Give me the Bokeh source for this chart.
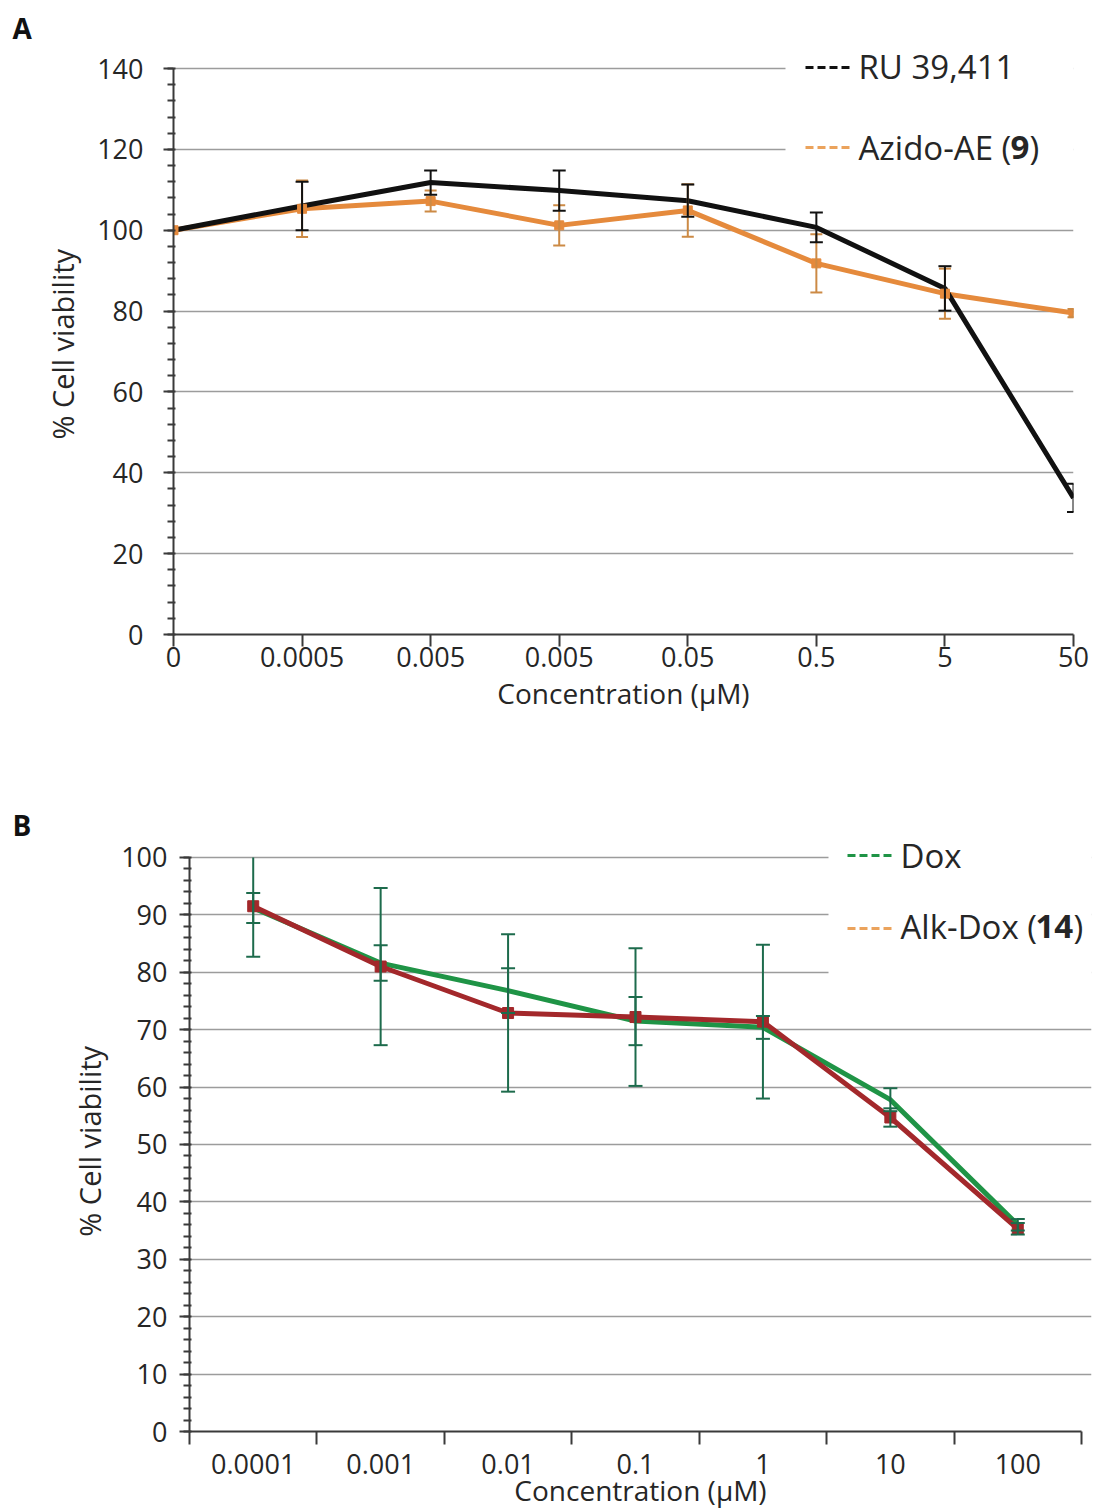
from bokeh.plotting import figure
from bokeh.models import (Range1d, FixedTicker, SingleIntervalTicker, Label,
                          BoxAnnotation, Arrow)
from bokeh.layouts import column
from bokeh.embed import file_html
from bokeh.resources import INLINE

FONT = "Open Sans"

# ---------------- data: panel A ----------------
conc_a = ["0", "0.0005", "0.005", "0.005", "0.05", "0.5", "5", "50"]
ru = [100, 106, 111.8, 109.8, 107.3, 100.7, 85.6, 33.8]
ru_err = [0, 6, 3, 5, 4, 3.7, 5.5, 3.5]
azido = [100, 105.3, 107.2, 101.2, 104.9, 91.8, 84.3, 79.5]
azido_err = [0, 7, 2.6, 5, 6.5, 7.2, 6.2, 1]

# ---------------- data: panel B ----------------
conc_b = ["0.0001", "0.001", "0.01", "0.1", "1", "10", "100"]
dox = [91.2, 81.6, 76.8, 71.5, 70.4, 57.8, 36.0]
dox_err = [2.6, 3.1, 3.9, 4.2, 2.0, 2.0, 1.0]
alk = [91.5, 81.0, 72.9, 72.2, 71.4, 54.7, 35.3]
alk_err = [8.8, 13.7, 13.7, 12.0, 13.4, 1.6, 1.0]

# ---------------- colours ----------------
C_BLACK = "#111111"
C_ORANGE = "#E58A3C"
C_ORANGE_ERR = "#CC8A45"
C_LEG_ORANGE = "#EBA35C"
C_GREEN = "#1F9446"
C_RED = "#A3282B"
C_ERR_B = "#1D6B4C"
C_GRID = "#9C9C9C"
C_AXIS = "#3A3A3A"
C_TEXT = "#262626"

# ---------------- layout (pixels) ----------------
W = 1093
# panel A
A_H = 760
A_LEFT, A_RIGHT, A_TOP, A_BOTTOM = 173, 1073, 46, 634   # frame edges
A_AXIS_TOP = 68                                          # where y = 140 sits
# panel B (figure starts at y = A_H)
B_H = 751
B_LEFT, B_RIGHT, B_TOP, B_BOTTOM = 189, 1091, 843, 1433
B_AXIS_TOP, B_AXIS_RIGHT = 857, 1081

YMAX_A, YMAX_B = 140, 100
LEG_FONT = "33px"


def style_axes(p):
    p.outline_line_color = None
    p.xgrid.visible = False
    p.ygrid.grid_line_color = C_GRID
    p.ygrid.grid_line_width = 1.5
    for ax in (p.xaxis[0], p.yaxis[0]):
        ax.axis_line_color = C_AXIS
        ax.axis_line_width = 2
        ax.major_tick_line_color = C_AXIS
        ax.major_tick_line_width = 2
        ax.minor_tick_line_color = C_AXIS
        ax.minor_tick_line_width = 2
        ax.major_label_text_font = FONT
        ax.major_label_text_font_size = "27px"
        ax.major_label_text_color = C_TEXT
        ax.axis_label_text_font = FONT
        ax.axis_label_text_font_style = "normal"
        ax.axis_label_text_color = C_TEXT


def style_title(p, offset):
    p.title.text_font = FONT
    p.title.text_font_size = "28px"
    p.title.text_font_style = "bold"
    p.title.text_color = "#111111"
    p.title.align = "left"
    p.title.offset = offset
    p.title.standoff = 0


def err_bars(p, xs, ys, es, color, ymax, width=2, cap=13):
    """Error bars clipped at the axis maximum, like the original chart."""
    keep = [(x, y, e) for x, y, e in zip(xs, ys, es) if e > 0]
    x2 = [k[0] for k in keep]
    lo = [k[1] - k[2] for k in keep]
    hi = [min(k[1] + k[2], ymax) for k in keep]
    p.segment(x0=x2, y0=lo, x1=x2, y1=hi, line_color=color, line_width=width)
    cx = x2 + [k[0] for k in keep if k[1] + k[2] <= ymax]
    cy = lo + [k[1] + k[2] for k in keep if k[1] + k[2] <= ymax]
    p.scatter(x=cx, y=cy, marker="dash", size=cap, line_color=color, line_width=width)


def txt(p, x, y, text, size=LEG_FONT, bold=False):
    p.add_layout(Label(x=x, y=y, x_units="screen", y_units="screen", text=text,
                       text_font=FONT, text_font_size=size,
                       text_font_style="bold" if bold else "normal",
                       text_color=C_TEXT, text_baseline="middle"))


def dash_sample(p, x0, x1, y, color):
    p.add_layout(Arrow(x_start=x0, y_start=y, x_end=x1, y_end=y,
                       start_units="screen", end_units="screen", end=None,
                       line_color=color, line_width=3, line_dash="8 4"))


def white_box(p, left, right, bottom, top):
    p.add_layout(BoxAnnotation(left=left, right=right, bottom=bottom, top=top,
                               left_units="screen", right_units="screen",
                               bottom_units="screen", top_units="screen",
                               fill_color="white", fill_alpha=1, line_color=None))


# ================= Panel A =================
xa = list(range(len(conc_a)))
ppu_a = (A_BOTTOM - A_AXIS_TOP) / YMAX_A
pA = figure(width=W, height=A_H, output_backend="svg", toolbar_location=None,
            title="A",
            x_range=Range1d(0, len(conc_a) - 1),
            y_range=Range1d(0, YMAX_A + (A_AXIS_TOP - A_TOP) / ppu_a),
            min_border_left=A_LEFT, min_border_right=W - A_RIGHT,
            min_border_top=A_TOP, min_border_bottom=A_H - A_BOTTOM)
pA.frame_align = False
style_axes(pA)
style_title(pA, 12 - A_LEFT)
pA.yaxis.ticker = SingleIntervalTicker(interval=20, num_minor_ticks=5)
pA.yaxis.bounds = (0, YMAX_A)
pA.yaxis.major_tick_out = 10
pA.yaxis.major_tick_in = 0
pA.yaxis.minor_tick_out = 6
pA.yaxis.minor_tick_in = 2
pA.yaxis.major_label_standoff = 20
pA.yaxis.axis_label = "% Cell  viability"
pA.yaxis.axis_label_text_font_size = "29px"
pA.yaxis.axis_label_standoff = 12
pA.xaxis.ticker = FixedTicker(ticks=xa, minor_ticks=[])
pA.xaxis.major_label_overrides = {i: s for i, s in enumerate(conc_a)}
pA.xaxis.major_tick_out = 12
pA.xaxis.major_tick_in = 0
pA.xaxis.major_label_standoff = 0
pA.xaxis.axis_label = "Concentration (µM)"
pA.xaxis.axis_label_text_font_size = "28px"
pA.xaxis.axis_label_standoff = 4

pA.line(xa, azido, line_color=C_ORANGE, line_width=5)
pA.line(xa, ru, line_color=C_BLACK, line_width=5)
pA.scatter(xa, azido, marker="square", size=9, fill_color=C_ORANGE, line_color=C_ORANGE)
err_bars(pA, xa, azido, azido_err, C_ORANGE_ERR, YMAX_A, width=2, cap=12)
err_bars(pA, xa, ru, ru_err, C_BLACK, YMAX_A, width=2, cap=13)

# legend A (screen px relative to frame bottom-left)
white_box(pA, 785 - A_LEFT, A_RIGHT - A_LEFT + 10, A_BOTTOM - 190, A_BOTTOM - A_TOP + 10)
dash_sample(pA, 805 - A_LEFT, 852 - A_LEFT, A_BOTTOM - 67, C_BLACK)
txt(pA, 858 - A_LEFT, A_BOTTOM - 66, "RU 39,411")
dash_sample(pA, 805 - A_LEFT, 852 - A_LEFT, A_BOTTOM - 147, C_LEG_ORANGE)
txt(pA, 858 - A_LEFT, A_BOTTOM - 147, "Azido-AE (")
txt(pA, 1010 - A_LEFT, A_BOTTOM - 147, "9", bold=True)
txt(pA, 1029 - A_LEFT, A_BOTTOM - 147, ")")

# ================= Panel B =================
nb = len(conc_b)
xb = [i + 0.5 for i in range(nb)]
ppu_b = (B_BOTTOM - B_AXIS_TOP) / YMAX_B
ppc_b = (B_AXIS_RIGHT - B_LEFT) / nb
pB = figure(width=W, height=B_H, output_backend="svg", toolbar_location=None,
            title="B",
            x_range=Range1d(0, nb + (B_RIGHT - B_AXIS_RIGHT) / ppc_b),
            y_range=Range1d(0, YMAX_B + (B_AXIS_TOP - B_TOP) / ppu_b),
            min_border_left=B_LEFT, min_border_right=W - B_RIGHT,
            min_border_top=B_TOP - A_H, min_border_bottom=A_H + B_H - B_BOTTOM)
pB.frame_align = False
style_axes(pB)
style_title(pB, 12 - B_LEFT)
pB.yaxis.ticker = SingleIntervalTicker(interval=10, num_minor_ticks=5)
pB.yaxis.bounds = (0, YMAX_B)
pB.yaxis.major_tick_out = 10
pB.yaxis.major_tick_in = 0
pB.yaxis.minor_tick_out = 6
pB.yaxis.minor_tick_in = 2
pB.yaxis.major_label_standoff = 12
pB.yaxis.axis_label = "% Cell  viability"
pB.yaxis.axis_label_text_font_size = "29px"
pB.yaxis.axis_label_standoff = 9
pB.xaxis.ticker = FixedTicker(ticks=xb, minor_ticks=list(range(nb + 1)))
pB.xaxis.bounds = (0, nb)
pB.xaxis.major_label_overrides = {x: s for x, s in zip(xb, conc_b)}
pB.xaxis.major_tick_out = 0
pB.xaxis.major_tick_in = 0
pB.xaxis.major_tick_line_color = None
pB.xaxis.minor_tick_out = 13
pB.xaxis.minor_tick_in = 0
pB.xaxis.major_label_standoff = 9
pB.xaxis.axis_label = "Concentration (µM)"
pB.xaxis.axis_label_text_font_size = "28px"
pB.xaxis.axis_label_standoff = -6

pB.line(xb, dox, line_color=C_GREEN, line_width=5)
pB.line(xb, alk, line_color=C_RED, line_width=5)
pB.scatter(xb, alk, marker="square", size=11, fill_color=C_RED, line_color=C_RED)
err_bars(pB, xb, alk, alk_err, C_ERR_B, YMAX_B, width=2, cap=14)
err_bars(pB, xb, dox, dox_err, C_ERR_B, YMAX_B, width=2, cap=14)

# legend B
white_box(pB, 828 - B_LEFT, B_RIGHT - B_LEFT + 10, B_BOTTOM - 1000, B_BOTTOM - B_TOP + 10)
dash_sample(pB, 847 - B_LEFT, 895 - B_LEFT, B_BOTTOM - 857, C_GREEN)
txt(pB, 900 - B_LEFT, B_BOTTOM - 857, "Dox")
dash_sample(pB, 847 - B_LEFT, 895 - B_LEFT, B_BOTTOM - 930, C_LEG_ORANGE)
txt(pB, 900 - B_LEFT, B_BOTTOM - 928, "Alk-Dox (")
txt(pB, 1035 - B_LEFT, B_BOTTOM - 928, "14", bold=True)
txt(pB, 1073 - B_LEFT, B_BOTTOM - 928, ")")

layout = column(pA, pB)
open("out.html", "w").write(file_html(layout, INLINE))
